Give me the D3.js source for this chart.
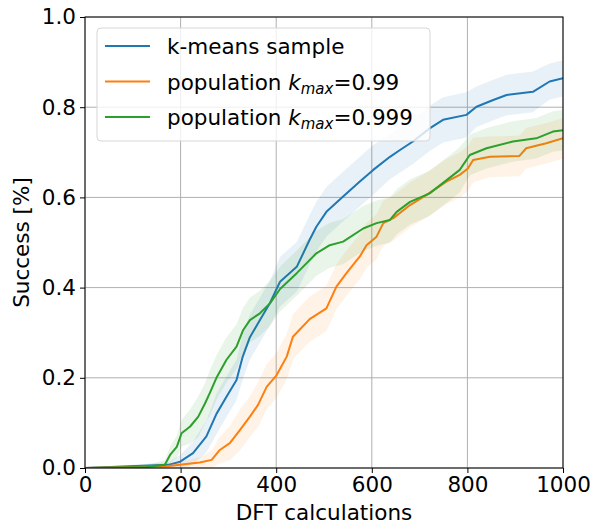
<!DOCTYPE html>
<html>
<head>
<meta charset="utf-8">
<script src="https://cdn.jsdelivr.net/npm/d3@7"></script>
<style>
  body { margin: 0; background: #fff; }
  text { font-family: "DejaVu Sans", sans-serif; fill: #000; }
</style>
</head>
<body>
<figure id="chart" style="margin:0"></figure>
<script>
// data
const kmeansX = [0, 174, 199, 226, 254, 275, 296, 317, 330, 345, 366, 387, 408, 443, 470, 484, 505, 540, 575, 603, 638, 659, 686, 721, 749, 798, 819, 854, 882, 937, 972, 1000];
const kmeansY = [0, 0.007, 0.014, 0.033, 0.07, 0.12, 0.158, 0.195, 0.247, 0.29, 0.328, 0.366, 0.413, 0.446, 0.506, 0.535, 0.568, 0.602, 0.635, 0.661, 0.69, 0.705, 0.724, 0.753, 0.772, 0.783, 0.801, 0.816, 0.827, 0.834, 0.857, 0.864];
const kmeansSpread = [0, 0.006, 0.015, 0.025, 0.035, 0.045, 0.045, 0.045, 0.05, 0.05, 0.05, 0.05, 0.055, 0.055, 0.055, 0.055, 0.055, 0.055, 0.055, 0.055, 0.05, 0.05, 0.05, 0.05, 0.05, 0.05, 0.045, 0.045, 0.045, 0.045, 0.04, 0.04];

const pop99X = [0, 171, 240, 265, 282, 303, 324, 345, 362, 380, 401, 422, 435, 470, 505, 526, 547, 575, 589, 610, 624, 645, 680, 714, 756, 784, 801, 812, 847, 909, 923, 965, 1000];
const pop99Y = [0, 0.004, 0.012, 0.018, 0.04, 0.055, 0.084, 0.114, 0.14, 0.18, 0.206, 0.247, 0.291, 0.33, 0.354, 0.402, 0.432, 0.469, 0.494, 0.513, 0.543, 0.554, 0.583, 0.605, 0.635, 0.65, 0.664, 0.683, 0.69, 0.692, 0.709, 0.72, 0.731];
const pop99Spread = [0, 0.005, 0.012, 0.02, 0.03, 0.038, 0.045, 0.045, 0.05, 0.05, 0.05, 0.05, 0.05, 0.05, 0.05, 0.05, 0.05, 0.05, 0.05, 0.05, 0.05, 0.05, 0.05, 0.05, 0.05, 0.05, 0.05, 0.05, 0.045, 0.045, 0.045, 0.045, 0.045];

const pop999X = [0, 129, 167, 178, 192, 202, 220, 237, 251, 261, 275, 296, 317, 331, 345, 366, 387, 408, 443, 484, 512, 540, 582, 610, 638, 652, 680, 721, 784, 805, 840, 895, 944, 979, 1000];
const pop999Y = [0, 0.002, 0.007, 0.029, 0.047, 0.077, 0.092, 0.114, 0.143, 0.166, 0.2, 0.24, 0.269, 0.306, 0.328, 0.343, 0.365, 0.397, 0.432, 0.476, 0.494, 0.502, 0.531, 0.543, 0.55, 0.568, 0.59, 0.609, 0.661, 0.694, 0.709, 0.724, 0.731, 0.746, 0.749];
const pop999Spread = [0, 0.005, 0.01, 0.018, 0.025, 0.03, 0.038, 0.045, 0.045, 0.05, 0.05, 0.05, 0.05, 0.05, 0.05, 0.05, 0.05, 0.05, 0.05, 0.05, 0.05, 0.05, 0.05, 0.05, 0.05, 0.05, 0.05, 0.05, 0.05, 0.045, 0.045, 0.045, 0.045, 0.045, 0.045];

const xTicks = [0, 200, 400, 600, 800, 1000];
const yTicks = [0, 0.2, 0.4, 0.6, 0.8, 1.0];

const dimensions = {
  width: 592,
  height: 525,
  margin: { top: 17, right: 29, bottom: 57, left: 85 },
};
dimensions.boundedWidth = dimensions.width - dimensions.margin.left - dimensions.margin.right;
dimensions.boundedHeight = dimensions.height - dimensions.margin.top - dimensions.margin.bottom;

const root = d3.select('figure#chart')
  .append('svg')
  .attr('width', dimensions.width)
  .attr('height', dimensions.height);

const svg = root.append('g')
  .attr('transform', `translate(${dimensions.margin.left}, ${dimensions.margin.top})`);

const xScale = d3.scaleLinear().domain([0, 1000]).range([0, dimensions.boundedWidth]);
const yScale = d3.scaleLinear().domain([0, 1]).range([dimensions.boundedHeight, 0]);

svg.append('clipPath').attr('id', 'plotclip')
  .append('rect')
  .attr('width', dimensions.boundedWidth)
  .attr('height', dimensions.boundedHeight);

// grid
svg.append('g')
  .selectAll('line')
  .data(xTicks)
  .enter()
  .append('line')
  .attr('x1', d => xScale(d)).attr('x2', d => xScale(d))
  .attr('y1', 0).attr('y2', dimensions.boundedHeight)
  .attr('stroke', '#b0b0b0').attr('stroke-width', 1);
svg.append('g')
  .selectAll('line')
  .data(yTicks)
  .enter()
  .append('line')
  .attr('y1', d => yScale(d)).attr('y2', d => yScale(d))
  .attr('x1', 0).attr('x2', dimensions.boundedWidth)
  .attr('stroke', '#b0b0b0').attr('stroke-width', 1);

const series = [
  { xs: kmeansX, ys: kmeansY, sd: kmeansSpread, color: '#1f77b4' },
  { xs: pop99X, ys: pop99Y, sd: pop99Spread, color: '#ff7f0e' },
  { xs: pop999X, ys: pop999Y, sd: pop999Spread, color: '#2ca02c' },
];

const plot = svg.append('g').attr('clip-path', 'url(#plotclip)');

const area = d3.area()
  .x(d => xScale(d.x))
  .y0(d => yScale(Math.max(0, d.y - d.s)))
  .y1(d => yScale(d.y + d.s));
const line = d3.line()
  .x(d => xScale(d.x))
  .y(d => yScale(d.y));

series.forEach(function(s) {
  const pts = s.xs.map((x, i) => ({ x: x, y: s.ys[i], s: s.sd[i] }));
  plot.append('path')
    .datum(pts)
    .attr('d', area)
    .attr('fill', s.color)
    .attr('fill-opacity', 0.1);
  plot.append('path')
    .datum(pts)
    .attr('d', line)
    .attr('fill', 'none')
    .attr('stroke', s.color)
    .attr('stroke-width', 2)
    .attr('stroke-linejoin', 'round');
});

// axes
const xAxis = svg.append('g')
  .attr('transform', `translate(0,${dimensions.boundedHeight})`)
  .call(d3.axisBottom(xScale).tickValues(xTicks).tickFormat(d3.format('d')).tickSize(5).tickPadding(4));
const yAxis = svg.append('g')
  .call(d3.axisLeft(yScale).tickValues(yTicks).tickFormat(d3.format('.1f')).tickSize(5).tickPadding(4));
[xAxis, yAxis].forEach(function(ax) {
  ax.select('.domain').remove();
  ax.selectAll('text').style('font-size', '21.5px').attr('fill', '#000');
  ax.selectAll('line').attr('stroke', '#000');
});

svg.append('rect')
  .attr('width', dimensions.boundedWidth)
  .attr('height', dimensions.boundedHeight)
  .attr('fill', 'none')
  .attr('stroke', '#000')
  .attr('stroke-width', 1);

root.append('text')
  .attr('x', dimensions.margin.left + dimensions.boundedWidth / 2)
  .attr('y', 520)
  .attr('text-anchor', 'middle')
  .style('font-size', '21.5px')
  .text('DFT calculations');
root.append('text')
  .attr('transform', `translate(29, ${dimensions.margin.top + dimensions.boundedHeight / 2}) rotate(-90)`)
  .attr('text-anchor', 'middle')
  .style('font-size', '21.5px')
  .text('Success [%]');

// legend
const legend = root.append('g');
legend.append('rect')
  .attr('x', 97).attr('y', 28)
  .attr('width', 333).attr('height', 113)
  .attr('rx', 4)
  .attr('fill', '#fff').attr('fill-opacity', 0.8)
  .attr('stroke', '#d6d6d6').attr('stroke-width', 1);

const legendItems = [
  { label: 'k-means sample', color: '#1f77b4' },
  { label: 'population ', sub: '0.99', color: '#ff7f0e' },
  { label: 'population ', sub: '0.999', color: '#2ca02c' },
];
legendItems.forEach(function(item, i) {
  const cy = 46 + i * 35.5;
  legend.append('line')
    .attr('x1', 105).attr('x2', 150)
    .attr('y1', cy).attr('y2', cy)
    .attr('stroke', item.color).attr('stroke-width', 2);
  const t = legend.append('text')
    .attr('x', 167).attr('y', cy + 8)
    .style('font-size', '21.5px');
  t.append('tspan').text(item.label);
  if (item.sub) {
    t.append('tspan').style('font-style', 'italic').text('k');
    t.append('tspan').style('font-style', 'italic').style('font-size', '15px').attr('dy', 4).text('max');
    t.append('tspan').attr('dy', -4).text('=' + item.sub);
  }
});
</script>
</body>
</html>
